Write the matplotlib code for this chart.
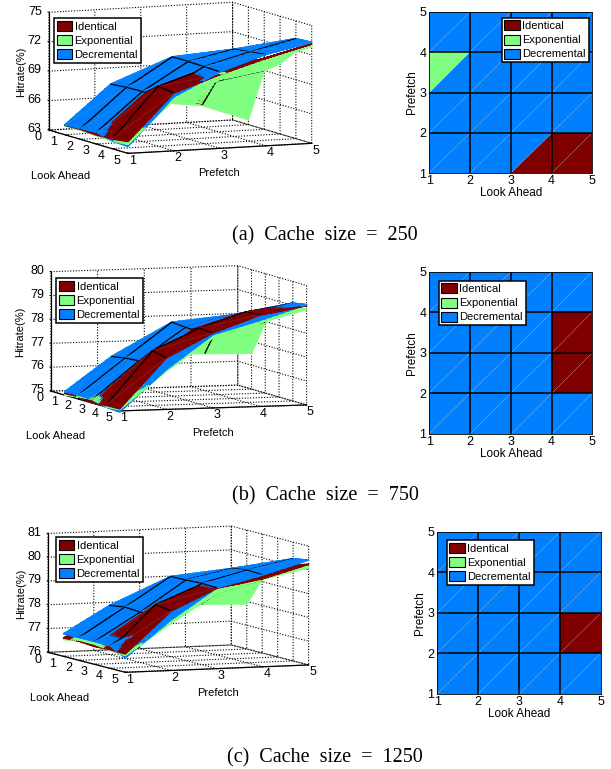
import numpy as np
import matplotlib
matplotlib.use("Agg")
import matplotlib.pyplot as plt
from matplotlib.colors import to_rgb
from matplotlib.patches import Patch
from mpl_toolkits.mplot3d.art3d import Poly3DCollection

plt.rcParams["font.family"] = ["Liberation Sans", "DejaVu Sans"]
plt.rcParams["font.size"] = 8

W, H = 611, 769
nan = np.nan

prefetch = [1, 2, 3, 4, 5]
look_ahead = [1, 2, 3, 4, 5]
series_names = ["Identical", "Exponential", "Decremental"]
series_colors = ["#800000", "#80FF80", "#0080FF"]
captions = ["(a)  Cache  size  =  250", "(b)  Cache  size  =  750", "(c)  Cache  size  =  1250"]

# rows are look ahead 1..5, columns are prefetch 1..5
identical_250 = [
    [63.95, 67.2, 66.7, 65.3, nan],
    [64.0, 67.5, 68.0, 68.5, nan],
    [63.9, 67.8, 70.0, 69.9, 70.8],
    [64.0, 69.1, 70.6, 71.0, 72.05],
    [64.2, 68.9, 70.5, 71.9, 73.13],
]
exponential_250 = [
    [63.9, 66.8, 65.8, 65.2, 63.5],
    [63.95, 67.0, 67.3, 68.2, 69.0],
    [63.85, 68.0, 69.3, 69.7, 70.2],
    [63.8, 68.0, 70.3, 70.8, 71.9],
    [63.9, 68.2, 70.55, 71.7, 72.9],
]
decremental_250 = [
    [64.0, 67.9, nan, nan, nan],
    [64.1, 68.05, 70.9, nan, nan],
    [64.2, 68.1, 70.9, 71.9, nan],
    [63.8, 68.2, 70.86, 72.1, 73.2],
    [63.7, 68.5, 70.8, 72.3, 73.3],
]

identical_750 = [
    [75.07, 76.4, nan, nan, nan],
    [75.1, 76.45, 77.8, nan, nan],
    [75.0, 76.5, 77.9, 78.4, nan],
    [75.07, 77.29, 78.16, 78.79, 79.05],
    [75.08, 77.16, 78.14, 78.82, 79.15],
]
exponential_750 = [
    [75.0, 76.5, 76.6, 76.55, 76.5],
    [75.1, 76.55, 77.85, 77.9, 77.96],
    [75.15, 76.5, 77.85, 78.4, 78.8],
    [75.0, 76.55, 77.9, 78.45, 78.95],
    [75.05, 76.6, 77.93, 78.5, 79.0],
]
decremental_750 = [
    [75.14, 76.55, nan, nan, nan],
    [75.17, 76.65, 78.09, nan, nan],
    [75.13, 76.7, 78.04, 78.5, nan],
    [75.0, 76.7, 78.02, 78.72, 79.1],
    [74.95, 76.67, 78.07, 78.6, 79.2],
]

identical_1250 = [
    [76.77, 77.9, nan, nan, nan],
    [76.8, 77.9, 78.9, nan, nan],
    [76.75, 77.9, 79.0, 79.5, nan],
    [76.78, 78.6, 79.38, 79.7, 80.04],
    [76.77, 78.5, 79.38, 79.7, 80.23],
]
exponential_1250 = [
    [76.7, 78.0, 77.97, 77.96, 77.89],
    [76.85, 78.05, 78.6, 78.58, 79.1],
    [76.85, 78.0, 78.7, 79.05, 79.75],
    [76.75, 78.0, 79.0, 79.5, 80.0],
    [76.7, 77.99, 79.17, 79.69, 80.1],
]
decremental_1250 = [
    [76.95, 78.06, nan, nan, nan],
    [76.96, 78.16, 79.37, nan, nan],
    [76.96, 78.12, 79.39, 79.8, nan],
    [76.95, 78.1, 79.42, 79.9, 80.3],
    [76.6, 78.13, 79.4, 79.86, 80.41],
]

# top view winners per triangle, rows prefetch 1..4, columns look ahead 1..4
top_lower_250 = ["DDII", "DDDD", "DDDD", "DDDD"]
top_upper_250 = ["DDDI", "DDDD", "EDDD", "DDDD"]
top_lower_750 = ["DDDD", "DDDI", "DDDI", "DDDD"]
top_upper_750 = ["DDDD", "DDDI", "DDDI", "DDDD"]
top_lower_1250 = ["DDDD", "DDDI", "DDDD", "DDDD"]
top_upper_1250 = ["DDDD", "DDDI", "DDDD", "DDDD"]

# painter sort of mplot3d needs small pieces to look right between the surfaces
PIECES = 8


def add_legend(fig, left, top):
    handles = [Patch(facecolor=c, edgecolor="k", linewidth=0.8) for c in series_colors]
    leg = fig.legend(
        handles, series_names,
        loc="upper left",
        bbox_to_anchor=(left / W, 1 - top / H),
        borderaxespad=0,
        borderpad=0.25,
        labelspacing=0.3,
        handlelength=1.4,
        handleheight=1.0,
        handletextpad=0.2,
        fancybox=False,
        framealpha=1,
        edgecolor="k",
        fontsize=8,
    )
    leg.get_frame().set_linewidth(1.1)


def split_triangle(a, b, c, n):
    a, b, c = np.array(a), np.array(b), np.array(c)
    pieces = []

    def at(i, j):
        return a + (b - a) * i / n + (c - a) * j / n

    for i in range(n):
        for j in range(n - i):
            pieces.append([at(i, j), at(i + 1, j), at(i, j + 1)])
            if i + j < n - 1:
                pieces.append([at(i + 1, j), at(i + 1, j + 1), at(i, j + 1)])
    return pieces


def surface_faces(tables, pf_vals, la_vals, nudge):
    verts, faces, edges = [], [], []
    grids = [np.array(t, dtype=float) for t in tables]

    def add_mesh_edge(s, p, q, edge_color, face_color):
        # cut the edge up and keep only the parts where this surface is the top one
        z = grids[s]
        if np.isnan([z[p], z[q]]).any():
            return
        for k in range(PIECES):
            t0, t1 = k / PIECES, (k + 1) / PIECES
            tm = (t0 + t1) / 2
            zm = z[p] + (z[q] - z[p]) * tm
            covered = False
            for o, other in enumerate(grids):
                if o != s and not np.isnan([other[p], other[q]]).any():
                    if other[p] + (other[q] - other[p]) * tm > zm + 0.01:
                        covered = True
            if covered:
                continue
            seg = []
            for t in (t0, t1):
                seg.append(np.array([
                    pf_vals[p[1]] + (pf_vals[q[1]] - pf_vals[p[1]]) * t,
                    la_vals[p[0]] + (la_vals[q[0]] - la_vals[p[0]]) * t,
                    z[p] + (z[q] - z[p]) * t,
                ]) + nudge)
            verts.append(seg)
            faces.append(face_color)
            edges.append(edge_color)

    for s, (z, color) in enumerate(zip(grids, series_colors)):
        diag = tuple(0.88 * np.array(to_rgb(color)) + 0.12 * 0.7)
        for i in range(4):
            for j in range(4):
                tris = [
                    [(i, j), (i + 1, j), (i + 1, j + 1)],
                    [(i, j), (i, j + 1), (i + 1, j + 1)],
                ]
                for tri in tris:
                    if np.isnan([z[p] for p in tri]).any():
                        continue
                    corners = [(pf_vals[b], la_vals[a], z[a, b]) for a, b in tri]
                    for piece in split_triangle(*corners, PIECES):
                        verts.append(piece)
                        faces.append(color)
                        edges.append(color)
                add_mesh_edge(s, (i, j), (i + 1, j + 1), diag, color)
        # black mesh lines on the inner grid only
        for i in range(5):
            for j in range(5):
                if j < 4 and 0 < i < 4:
                    add_mesh_edge(s, (i, j), (i, j + 1), "k", "k")
                if i < 4 and 0 < j < 4:
                    add_mesh_edge(s, (i, j), (i + 1, j), "k", "k")
    return verts, faces, edges


def draw_3d(fig, tables, zticks, center, aspect, elev, azim, legend_pos, labels):
    side = np.linalg.norm(aspect) * 1.85 / 1.9057
    cx, cy = center
    ax = fig.add_axes(
        [(cx - side * 0.5135) / W, 1 - (cy + side * 0.5135) / H, side / W, side / H],
        projection="3d", proj_type="ortho",
    )
    ax.patch.set_visible(False)
    ax.set_box_aspect(aspect)
    ax.view_init(elev=elev, azim=azim)

    # move mesh lines a little towards the eye so the depth sort keeps them on top
    e, a = np.radians(elev), np.radians(azim)
    toward = 6.0
    nudge = np.array([
        np.cos(a) * np.cos(e) * toward * 4 / aspect[0],
        -np.sin(a) * np.cos(e) * toward * 5 / aspect[1],
        np.sin(e) * toward * (zticks[-1] - zticks[0]) / aspect[2],
    ])
    verts, faces, edges = surface_faces(tables, prefetch, look_ahead, nudge)
    coll = Poly3DCollection(verts, facecolors=faces, edgecolors=edges, linewidths=1.0, zsort="average")
    ax.add_collection3d(coll)

    ax.set_xlim(1, 5, view_margin=0)
    ax.set_ylim(5, 0, view_margin=0)
    ax.set_zlim(zticks[0], zticks[-1], view_margin=0)
    ax.set_xticks(prefetch)
    ax.set_yticks([0, 1, 2, 3, 4, 5])
    ax.set_zticks(zticks)

    for axis in [ax.xaxis, ax.yaxis, ax.zaxis]:
        axis.set_pane_color((1, 1, 1, 1))
        axis.pane.set_edgecolor("none")
        axis.line.set_color("k")
        axis.line.set_linewidth(0.9)
        axis._axinfo["grid"].update(color="k", linewidth=0.8, linestyle=(0, (1, 1.5)))
        axis._axinfo["tick"].update(inward_factor=0.0, outward_factor=0.15, linewidth={True: 0.7, False: 0.7})
        for tick in axis.get_major_ticks():
            tick.label1.set_verticalalignment("center")
    ax.zaxis._axinfo["juggled"] = (1, 2, 0)
    ax.zaxis.set_ticks_position("lower")
    ax.tick_params(axis="x", pad=-2, labelsize=9)
    ax.tick_params(axis="y", pad=-1.5, labelsize=9)
    ax.tick_params(axis="z", pad=-2, labelsize=9)

    add_legend(fig, *legend_pos)
    hit, look, pre = labels
    fig.text(hit[0] / W, 1 - hit[1] / H, "Hitrate(%)", rotation=90, ha="center", va="center")
    fig.text(look[0] / W, 1 - look[1] / H, "Look Ahead", ha="center", va="center")
    fig.text(pre[0] / W, 1 - pre[1] / H, "Prefetch", ha="center", va="center")
    return ax


def draw_top(fig, lower, upper, box, legend_pos):
    left, top, right, bottom = box
    ax = fig.add_axes([left / W, 1 - bottom / H, (right - left) / W, (bottom - top) / H])
    color_of = dict(zip("IED", series_colors))
    for r in range(4):
        for c in range(4):
            la, pf = look_ahead[c], prefetch[r]
            ax.fill([la, la + 1, la + 1], [pf, pf, pf + 1],
                    facecolor=color_of[lower[r][c]], edgecolor="none", zorder=1)
            ax.fill([la, la, la + 1], [pf, pf + 1, pf + 1],
                    facecolor=color_of[upper[r][c]], edgecolor="none", zorder=1)
            ax.plot([la, la + 1], [pf, pf + 1], color="#a8a8a8", lw=0.35, alpha=0.4, zorder=2)
    for v in look_ahead[1:4]:
        ax.axvline(v, color="k", lw=1.1, zorder=3)
        ax.axhline(v, color="k", lw=1.1, zorder=3)
    ax.set_xlim(1, 5)
    ax.set_ylim(1, 5)
    ax.set_xticks(look_ahead)
    ax.set_yticks(prefetch)
    ax.tick_params(axis="x", length=0, pad=1.5, labelsize=9)
    ax.tick_params(axis="y", length=0, pad=2, labelsize=9)
    ax.set_xlabel("Look Ahead", labelpad=0)
    ax.set_ylabel("Prefetch", labelpad=1)
    ax.xaxis.label.set_fontsize(8.5)
    ax.yaxis.label.set_fontsize(8.5)
    for s in ax.spines.values():
        s.set_linewidth(0.6)
    add_legend(fig, *legend_pos)
    return ax


fig = plt.figure(figsize=(W / 100, H / 100), dpi=100)

draw_3d(fig, [identical_250, exponential_250, decremental_250], [63, 66, 69, 72, 75],
        (180.3, 77.8), (200, 200, 118.7), 7.3, -113.3, (54, 18),
        ((21, 72), (61, 176), (219, 173)))
draw_3d(fig, [identical_750, exponential_750, decremental_750], [75, 76, 77, 78, 79, 80],
        (178.7, 338.3), (197, 218, 120), 5.5, -108.4, (56, 278),
        ((20, 332), (56, 436), (213, 433)))
draw_3d(fig, [identical_1250, exponential_1250, decremental_1250], [76, 77, 78, 79, 80, 81],
        (178.3, 599.2), (197, 211, 119.5), 5.84, -111.5, (56, 537),
        ((21, 594), (60, 698), (218, 693)))

draw_top(fig, top_lower_250, top_upper_250, (429.3, 11.7, 592.3, 173.3), (501.7, 17.7))
draw_top(fig, top_lower_750, top_upper_750, (429.3, 271.7, 592.3, 434), (438.7, 280.7))
draw_top(fig, top_lower_1250, top_upper_1250, (437.3, 531.7, 600.7, 694), (446.7, 540))

for y, text in zip([236, 496, 758], captions):
    fig.text(325 / W, 1 - y / H, text, ha="center", va="center",
             family=["Liberation Serif", "DejaVu Serif"], fontsize=14.5)

fig.savefig("out.png", dpi=100)
